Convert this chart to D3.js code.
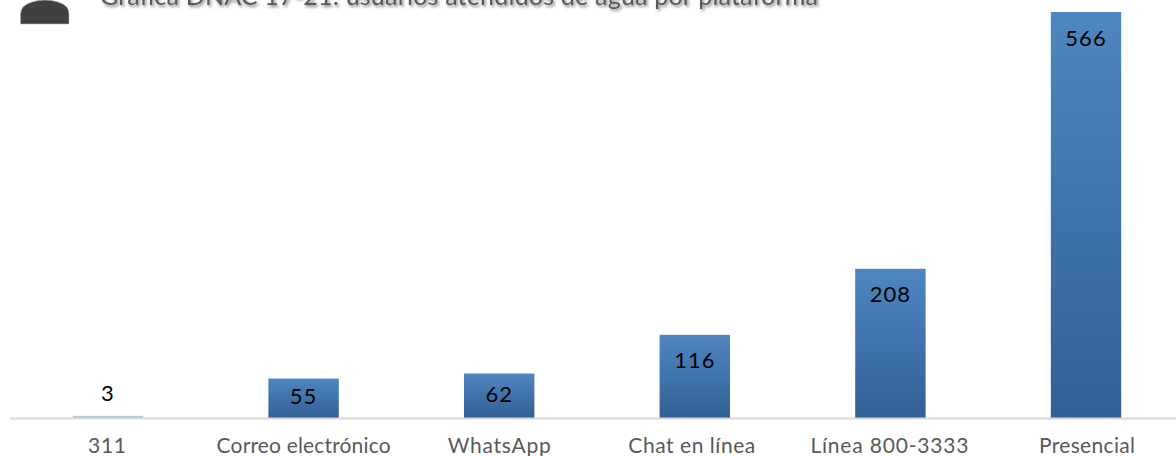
<!DOCTYPE html>
<html>
<head>
<meta charset="utf-8">
<script src="https://cdn.jsdelivr.net/npm/d3@7"></script>
<style>
  html, body { margin: 0; padding: 0; background: #fff; overflow: hidden; }
  text { font-family: Lato, "Open Sans", sans-serif; }
</style>
</head>
<body>
<div class="box"></div>
<script>
const categories = ["311", "Correo electrónico", "WhatsApp", "Chat en línea", "Línea 800-3333", "Presencial"]
const usuarios = [3, 55, 62, 116, 208, 566]
const titulo = "Gráfica DNAC 17-21: usuarios atendidos de agua por plataforma"

const boxWidth = 1176
const boxHeight = 456
const baseY = 418

// label widths and nudges, the original font is wider than what we have here
const anchoEtiqueta = [38, 174, 103, 127, 158, 96]
const ajusteEtiqueta = [-1, 0, 0, -3, -1, 1]

const svg = d3.select(".box").append("svg")
    .attr("width", boxWidth)
    .attr("height", boxHeight)
    .style("display", "block")

const defs = svg.append("defs")

const grad = defs.append("linearGradient")
    .attr("id", "barra")
    .attr("x1", 0).attr("y1", 0).attr("x2", 0).attr("y2", 1)
grad.append("stop").attr("offset", "0%").attr("stop-color", "#4f86c1")
grad.append("stop").attr("offset", "100%").attr("stop-color", "#316096")

const sombra = defs.append("filter")
    .attr("id", "sombra")
    .attr("x", "-5%").attr("y", "-50%").attr("width", "110%").attr("height", "200%")
sombra.append("feDropShadow")
    .attr("dx", 1.5).attr("dy", 2)
    .attr("stdDeviation", 1.5)
    .attr("flood-color", "#000")
    .attr("flood-opacity", 0.5)

const x = d3.scaleBand()
    .domain(categories)
    .range([10.2, 1183.8])
    .paddingInner(0.64)
    .paddingOuter(0.32)

const y = d3.scaleLinear()
    .domain([0, 566])
    .range([baseY, 12])

// title is cut by the top edge in the original
svg.append("text")
    .attr("x", 100)
    .attr("y", 5)
    .attr("font-size", 25)
    .attr("fill", "#595959")
    .attr("filter", "url(#sombra)")
    .attr("textLength", 718)
    .attr("lengthAdjust", "spacing")
    .text(titulo)

// dark rounded shape top left
svg.append("path")
    .attr("d", "M20.5,24 L20.5,14 Q21,5 32,2 Q38,0 45,0 Q52,0 58,2 Q69,5 69,14 L69,24 Z")
    .attr("fill", "#404040")
    .attr("stroke", "#b5b5b5")
    .attr("stroke-width", 0.6)

svg.selectAll("rect.barra")
    .data(usuarios).enter()
    .append("rect")
    .attr("class", "barra")
    .attr("x", (d, i) => x(categories[i]))
    .attr("y", d => y(d))
    .attr("width", x.bandwidth())
    .attr("height", d => baseY - y(d))
    .attr("fill", "url(#barra)")
    .attr("fill-opacity", d => baseY - y(d) < 5 ? 0.4 : 1)

const axis = svg.append("g")
    .attr("transform", `translate(0, ${baseY})`)
    .call(d3.axisBottom(x).tickSize(0).tickPadding(20))

axis.select(".domain")
    .attr("d", `M10,0.5H${boxWidth}`)
    .attr("stroke", "#d9d9d9")
    .attr("stroke-width", 2)

axis.selectAll("text")
    .attr("font-size", 21)
    .attr("font-family", "Lato, sans-serif")
    .attr("fill", "#595959")
    .attr("textLength", (d, i) => anchoEtiqueta[i])
    .attr("lengthAdjust", "spacing")
    .attr("dx", (d, i) => ajusteEtiqueta[i])

svg.selectAll("text.valor")
    .data(usuarios).enter()
    .append("text")
    .attr("class", "valor")
    .attr("x", (d, i) => x(categories[i]) + x.bandwidth() / 2)
    .attr("y", d => {
        const h = baseY - y(d)
        if (h < 20) return y(d) - 23
        return Math.min(y(d) + 26, y(d) + h / 2 - 1.5)
    })
    .attr("dy", "0.35em")
    .attr("text-anchor", "middle")
    .attr("font-size", 22)
    .attr("fill", "#000")
    .attr("letter-spacing", 1)
    .text(d => d)
</script>
</body>
</html>
